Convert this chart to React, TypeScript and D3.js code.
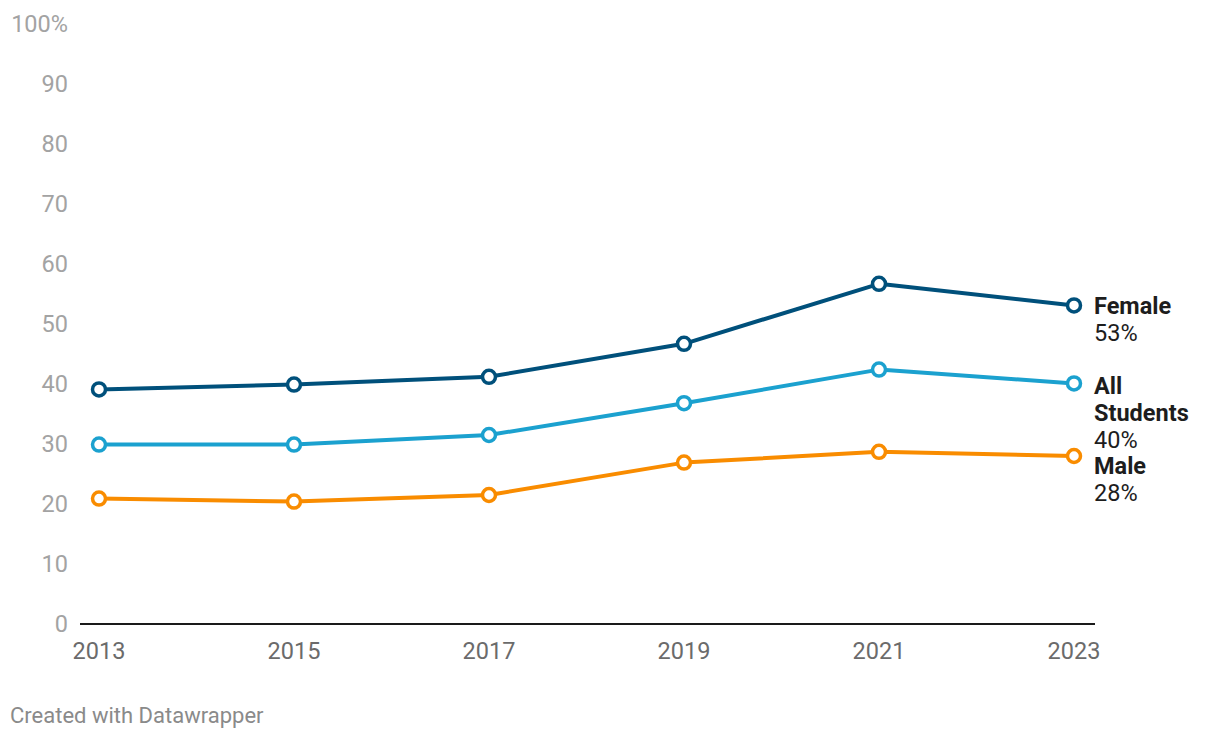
import React from "react";
import * as d3 from "d3";

const years = [2013, 2015, 2017, 2019, 2021, 2023];
const female = [39.1, 39.9, 41.2, 46.7, 56.7, 53.1];
const allStudents = [29.9, 29.9, 31.5, 36.8, 42.4, 40.1];
const male = [20.9, 20.4, 21.5, 26.9, 28.7, 28.0];
const yTicks = [0, 10, 20, 30, 40, 50, 60, 70, 80, 90, 100];

const seriesNames = ["Female", "All Students", "Male"];
const seriesLabelLines = [["Female"], ["All", "Students"], ["Male"]];
const seriesValueLabels = ["53%", "40%", "28%"];
const seriesColors = ["#00507b", "#1ba1cf", "#f98c00"];
const seriesData = [female, allStudents, male];

const W = 1220;
const H = 740;

export default function App() {
  const x = d3.scaleLinear().domain([2013, 2023]).range([99, 1074]);
  const y = d3.scaleLinear().domain([0, 100]).range([624, 24]);
  const line = d3
    .line<[number, number]>()
    .x((d) => x(d[0]))
    .y((d) => y(d[1]));

  const labelTops = [306, 386, 466];

  return (
    <svg
      width={W}
      height={H}
      style={{ position: "absolute", left: 0, top: 0, fontFamily: "Roboto" }}
    >
      {yTicks.map((t) => (
        <text
          key={t}
          x={68}
          y={y(t)}
          dy="0.35em"
          textAnchor="end"
          fontSize={23.5}
          fill="#a3a3a3"
        >
          {t === 100 ? "100%" : t}
        </text>
      ))}
      <line x1={80} x2={1095} y1={y(0)} y2={y(0)} stroke="#1a1a1a" strokeWidth={2} />
      {years.map((yr) => (
        <text
          key={yr}
          x={x(yr)}
          y={659}
          textAnchor="middle"
          fontSize={23.5}
          fill="#6b6b6b"
        >
          {yr}
        </text>
      ))}
      {seriesData.map((vals, i) => (
        <g key={seriesNames[i]}>
          <path
            d={line(years.map((yr, j) => [yr, vals[j]]))!}
            fill="none"
            stroke={seriesColors[i]}
            strokeWidth={4}
            strokeLinejoin="round"
          />
          {years.map((yr, j) => (
            <circle
              key={yr}
              cx={x(yr)}
              cy={y(vals[j])}
              r={6.5}
              fill="#fff"
              stroke={seriesColors[i]}
              strokeWidth={3.5}
            />
          ))}
        </g>
      ))}
      {seriesLabelLines.map((lines, i) => (
        <g key={i}>
          {lines.map((ln, k) => (
            <text
              key={k}
              x={1094}
              y={labelTops[i] + k * 27}
              dy="0.35em"
              fontSize={23.5}
              fontWeight={700}
              fill="#1d1d1d"
            >
              {ln}
            </text>
          ))}
          <text
            x={1094}
            y={labelTops[i] + lines.length * 27}
            dy="0.35em"
            fontSize={23.5}
            fill="#1d1d1d"
          >
            {seriesValueLabels[i]}
          </text>
        </g>
      ))}
      <text x={10} y={723} fontSize={22} fill="#8a8a8a">
        Created with Datawrapper
      </text>
    </svg>
  );
}
